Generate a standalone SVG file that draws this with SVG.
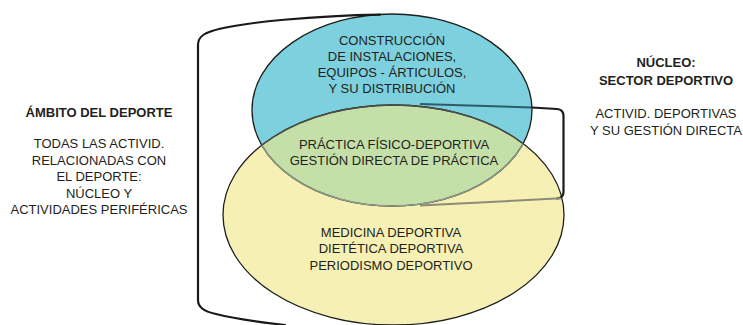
<svg xmlns="http://www.w3.org/2000/svg" width="743" height="325" viewBox="0 0 743 325">
  <style>
    text { font-family: "Liberation Sans", Arial, sans-serif; font-size: 13px; fill: #231f20; text-anchor: middle; }
    .b { font-weight: bold; }
    .outline { fill: none; stroke: #1e1e1e; stroke-width: 1.3; }
    .br { fill: none; stroke: #1a1a1a; stroke-width: 2.2; stroke-linecap: round; stroke-linejoin: round; }
  </style>
  <defs>
    <clipPath id="clipBlue"><ellipse cx="392" cy="110" rx="140" ry="96"/></clipPath>
    <clipPath id="clipYellow"><ellipse cx="393.5" cy="215" rx="170.5" ry="110"/></clipPath>
  </defs>
  <rect width="743" height="325" fill="#ffffff"/>

  <g id="yellow-ellipse">
    <ellipse cx="393.5" cy="215" rx="170.5" ry="110" fill="#f6f0b4"/>
  </g>
  <g id="blue-ellipse">
    <ellipse cx="392" cy="110" rx="140" ry="96" fill="#7dd0dd"/>
  </g>
  <g id="overlap">
    <ellipse cx="393.5" cy="215" rx="170.5" ry="110" fill="#c5dfa9" clip-path="url(#clipBlue)"/>
  </g>
  <g id="outlines">
    <ellipse class="outline" cx="393.5" cy="215" rx="170.5" ry="110"/>
    <ellipse class="outline" cx="392" cy="110" rx="140" ry="96"/>
    <ellipse cx="393.5" cy="215" rx="170.5" ry="110" fill="none" stroke="#4a4f4a" stroke-width="1.4" clip-path="url(#clipBlue)"/>
    <ellipse cx="392" cy="110" rx="140" ry="96" fill="none" stroke="#8e9c86" stroke-width="1.4" clip-path="url(#clipYellow)"/>
  </g>

  <g id="connectors">
    <path class="br" d="M 380 14.6 C 320 15.5, 240 22, 212 31 C 202 34, 198 38, 198 45 L 198 300 C 198 307, 203 311, 216 314 C 236 319, 258 322, 285 325"/>
    <path d="M 420 104 L 532 107.5" fill="none" stroke="#2e5c68" stroke-width="2"/>
    <path class="br" d="M 532 107.5 L 557 109 Q 563.5 109.5 563.5 116 L 563.5 192 Q 563.5 198 557 198.5" stroke-width="2"/>
    <path d="M 561 198.3 L 420 205.5" fill="none" stroke="#8e8c78" stroke-width="2"/>
  </g>

  <g id="node-blue-text">
    <text x="392" y="45">CONSTRUCCIÓN</text>
    <text x="392" y="61">DE INSTALACIONES,</text>
    <text x="392" y="77">EQUIPOS - ÁRTICULOS,</text>
    <text x="392" y="93">Y SU DISTRIBUCIÓN</text>
  </g>
  <g id="node-green-text">
    <text x="394" y="149">PRÁCTICA FÍSICO-DEPORTIVA</text>
    <text x="394" y="165">GESTIÓN DIRECTA DE PRÁCTICA</text>
  </g>
  <g id="node-yellow-text">
    <text x="391" y="237">MEDICINA DEPORTIVA</text>
    <text x="391" y="253">DIETÉTICA DEPORTIVA</text>
    <text x="391" y="270">PERIODISMO DEPORTIVO</text>
  </g>
  <g id="node-ambito">
    <text class="b" x="99" y="117">ÁMBITO DEL DEPORTE</text>
    <text x="99" y="148">TODAS LAS ACTIVID.</text>
    <text x="99" y="165">RELACIONADAS CON</text>
    <text x="99" y="181">EL DEPORTE:</text>
    <text x="99" y="198">NÚCLEO Y</text>
    <text x="99" y="214">ACTIVIDADES PERIFÉRICAS</text>
  </g>
  <g id="node-nucleo">
    <text class="b" x="666" y="67">NÚCLEO:</text>
    <text class="b" x="666" y="85">SECTOR DEPORTIVO</text>
    <text x="666" y="118">ACTIVID. DEPORTIVAS</text>
    <text x="666" y="135">Y SU GESTIÓN DIRECTA</text>
  </g>
</svg>
